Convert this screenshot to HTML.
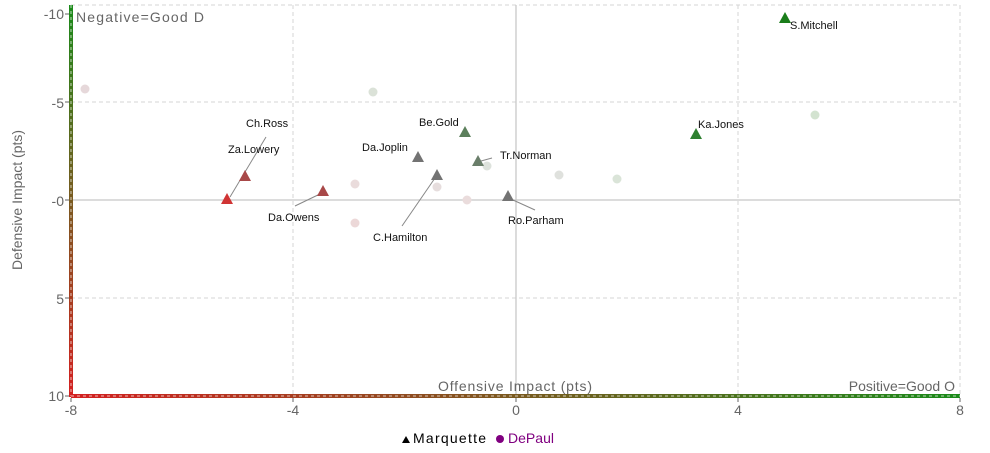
<!DOCTYPE html>
<html><head><meta charset="utf-8"><style>
html,body{margin:0;padding:0;background:#fff;}
svg{display:block;font-family:"Liberation Sans",sans-serif;}
</style></head><body>
<svg width="990" height="453" xmlns="http://www.w3.org/2000/svg">
<defs>
<linearGradient id="gv" x1="0" y1="0" x2="0" y2="1"><stop offset="0" stop-color="#1a8a1a"/><stop offset="0.5" stop-color="#7a5a20"/><stop offset="1" stop-color="#d42020"/></linearGradient>
<linearGradient id="gh" x1="0" y1="0" x2="1" y2="0"><stop offset="0" stop-color="#d42020"/><stop offset="0.5" stop-color="#7a5a20"/><stop offset="1" stop-color="#1a8a1a"/></linearGradient>
</defs>
<g stroke="#d4d4d4" stroke-dasharray="4,3" stroke-width="1">
<line x1="71" y1="5" x2="960" y2="5"/>
<line x1="71" y1="102" x2="960" y2="102"/>
<line x1="71" y1="298" x2="960" y2="298"/>
<line x1="293" y1="5" x2="293" y2="396"/>
<line x1="738" y1="5" x2="738" y2="396"/>
<line x1="960" y1="5" x2="960" y2="396"/>
</g>
<line x1="71" y1="200" x2="960" y2="200" stroke="#c8c8c8" stroke-width="1.3"/>
<line x1="516" y1="5" x2="516" y2="396" stroke="#c8c8c8" stroke-width="1.3"/>
<rect x="69" y="5" width="4" height="392" fill="url(#gv)"/>
<line x1="71" y1="5" x2="71" y2="396" stroke="#fff" stroke-width="1" stroke-dasharray="3,3" opacity="0.7"/>
<rect x="71" y="394" width="889" height="4" fill="url(#gh)"/>
<line x1="71" y1="396" x2="960" y2="396" stroke="#fff" stroke-width="1" stroke-dasharray="3,3" opacity="0.7"/>
<g stroke="#666" stroke-width="1">
<line x1="65" y1="14" x2="69" y2="14"/><line x1="65" y1="102" x2="69" y2="102"/>
<line x1="65" y1="200" x2="69" y2="200"/><line x1="65" y1="298" x2="69" y2="298"/>
<line x1="65" y1="396" x2="69" y2="396"/>
<line x1="71" y1="398" x2="71" y2="402"/><line x1="293" y1="398" x2="293" y2="402"/>
<line x1="516" y1="398" x2="516" y2="402"/><line x1="738" y1="398" x2="738" y2="402"/>
<line x1="960" y1="398" x2="960" y2="402"/>
</g>
<g fill="#666" font-size="14">
<text x="64" y="19" text-anchor="end">-10</text>
<text x="64" y="108" text-anchor="end">-5</text>
<text x="64" y="206" text-anchor="end">-0</text>
<text x="64" y="304" text-anchor="end">5</text>
<text x="64" y="401" text-anchor="end">10</text>
<text x="71" y="415" text-anchor="middle">-8</text>
<text x="293" y="415" text-anchor="middle">-4</text>
<text x="516" y="415" text-anchor="middle">0</text>
<text x="738" y="415" text-anchor="middle">4</text>
<text x="960" y="415" text-anchor="middle">8</text>
<text x="76" y="22" textLength="128">Negative=Good D</text>
<text x="515" y="391" text-anchor="middle" textLength="154">Offensive Impact (pts)</text>
<text x="955" y="391" text-anchor="end">Positive=Good O</text>
<text transform="translate(22,200) rotate(-90)" text-anchor="middle">Defensive Impact (pts)</text>
</g>
<g>
<circle cx="85" cy="89" r="4.5" fill="#e6d8da"/>
<circle cx="373" cy="92" r="4.5" fill="#dbe2d8"/>
<circle cx="815" cy="115" r="4.5" fill="#d3e3d0"/>
<circle cx="355" cy="184" r="4.5" fill="#eadcdc"/>
<circle cx="437" cy="187" r="4.5" fill="#e6dddd"/>
<circle cx="487" cy="166" r="4.5" fill="#dde2dc"/>
<circle cx="559" cy="175" r="4.5" fill="#dfe1dd"/>
<circle cx="617" cy="179" r="4.5" fill="#dae4d8"/>
<circle cx="467" cy="200" r="4.5" fill="#eadcdc"/>
<circle cx="355" cy="223" r="4.5" fill="#ecd8d8"/>
</g>
<g stroke="#888" stroke-width="1">
<line x1="266" y1="137" x2="230" y2="197"/>
<line x1="295" y1="206" x2="322" y2="193"/>
<line x1="402" y1="226" x2="435" y2="178"/>
<line x1="481" y1="161" x2="492" y2="158"/>
<line x1="513" y1="200" x2="535" y2="210"/>
</g>
<g>
<polygon points="785,12 791,23 779,23" fill="#1a7d1a"/>
<polygon points="696,128 702,139 690,139" fill="#2e8030"/>
<polygon points="465,126 471,137 459,137" fill="#5b7f5b"/>
<polygon points="478,155 484,166 472,166" fill="#6a7e6a"/>
<polygon points="418,151 424,162 412,162" fill="#737373"/>
<polygon points="437,169 443,180 431,180" fill="#737373"/>
<polygon points="508,190 514,201 502,201" fill="#737373"/>
<polygon points="245,170 251,181 239,181" fill="#a84848"/>
<polygon points="227,193 233,204 221,204" fill="#d03434"/>
<polygon points="323,185 329,196 317,196" fill="#a84848"/>
</g>
<g fill="#111" font-size="11">
<text x="790" y="29">S.Mitchell</text>
<text x="698" y="128">Ka.Jones</text>
<text x="419" y="126">Be.Gold</text>
<text x="500" y="159">Tr.Norman</text>
<text x="362" y="151">Da.Joplin</text>
<text x="373" y="241">C.Hamilton</text>
<text x="508" y="224">Ro.Parham</text>
<text x="246" y="127">Ch.Ross</text>
<text x="228" y="153">Za.Lowery</text>
<text x="268" y="221">Da.Owens</text>
</g>
<g font-size="14">
<polygon points="406,436 410,443 402,443" fill="#000"/>
<text x="413" y="443" fill="#000" textLength="73">Marquette</text>
<circle cx="500" cy="439" r="4" fill="#800080"/>
<text x="508" y="443" fill="#800080" textLength="46">DePaul</text>
</g>
</svg>
</body></html>
